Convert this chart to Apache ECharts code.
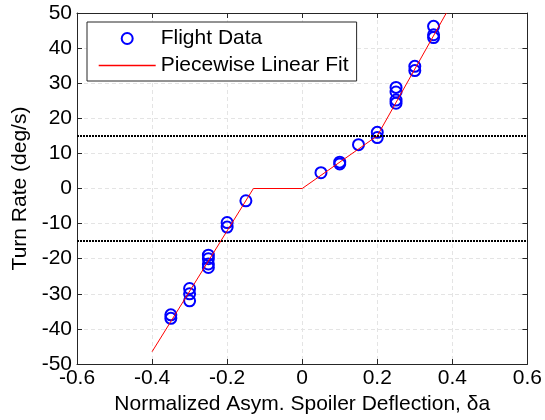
<!DOCTYPE html>
<html>
<head>
<meta charset="utf-8">
<script src="https://cdn.jsdelivr.net/npm/echarts@6/dist/echarts.min.js"></script>
<style>
  html, body { margin: 0; padding: 0; background: #fff; }
  #chart { width: 545px; height: 420px; }
</style>
</head>
<body>
<div id="chart"></div>
<script>
// Flight data points (normalized deflection, turn rate)
const flightX = [-0.35, -0.35, -0.3, -0.3, -0.3, -0.25, -0.25, -0.25, -0.25, -0.2, -0.2, -0.15,
  0.05, 0.1, 0.1, 0.15, 0.2, 0.2, 0.25, 0.25, 0.25, 0.25, 0.3, 0.3, 0.35, 0.35, 0.35];
const flightY = [-36, -37, -28.5, -30, -32, -19, -20, -21.5, -22.5, -9.7, -11, -3.5,
  4.5, 7.5, 7, 12.5, 16, 14.5, 28.8, 27.5, 25.2, 24.3, 34.8, 33.6, 46.2, 43.8, 43];

// Piecewise linear fit breakpoints
const fitX = [-0.4, -0.13, 0, 0.2, 0.384];
const fitY = [-46.5, 0, 0, 15, 50];

// Dotted threshold lines
const thresholds = [15, -15];

const xTicks = { min: -0.6, max: 0.6, interval: 0.2 };
const yTicks = { min: -50, max: 50, interval: 10 };

const font = "'Liberation Sans', Arial, sans-serif";
const fontSize = 21;
const axisColor = "#262626";
const gridLine = { show: true, lineStyle: { color: "#e4e4e4", type: [4, 3], width: 1 } };

const chart = echarts.init(document.getElementById("chart"));

const boxAxis = (extra) => ({
  type: "value",
  axisLine: { show: true, onZero: false, lineStyle: { color: axisColor, width: 1 } },
  axisTick: { show: true, inside: true, length: 5, lineStyle: { color: axisColor } },
  axisLabel: { show: false },
  splitLine: { show: false },
  ...extra,
});

const option = {
  animation: false,
  backgroundColor: "#fff",
  textStyle: { fontFamily: font },
  grid: { left: 77, right: 17, top: 13, bottom: 56 },
  legend: {
    orient: "vertical",
    left: 87,
    top: 22,
    padding: [6, 8, 5, 11],
    itemGap: 6,
    itemWidth: 57,
    itemHeight: 11,
    borderColor: axisColor,
    borderWidth: 1,
    backgroundColor: "#fff",
    selectedMode: false,
    textStyle: { fontSize: fontSize, color: "#000", fontFamily: font },
    data: [
      {
        name: "Flight Data",
        icon: "circle",
        itemStyle: { color: "rgba(0,0,0,0)", borderColor: "#0000ff", borderWidth: 2 },
      },
      {
        name: "Piecewise Linear Fit",
        // keep the line, hide the marker in the middle
        itemStyle: { color: "rgba(0,0,0,0)", borderColor: "rgba(0,0,0,0)", borderWidth: 0 },
        lineStyle: { color: "#ff0000", width: 1.4 },
      },
    ],
  },
  xAxis: [
    boxAxis({
      ...xTicks,
      position: "bottom",
      name: "Normalized Asym. Spoiler Deflection, \u03b4a",
      nameLocation: "middle",
      nameGap: 30,
      nameTextStyle: { fontSize: fontSize, color: "#000", fontFamily: font },
      axisLabel: {
        show: true,
        fontSize: fontSize,
        color: "#000",
        margin: 4,
        formatter: (v) => String(Math.round(v * 10) / 10),
      },
      splitLine: gridLine,
    }),
    boxAxis({ ...xTicks, position: "top" }),
  ],
  yAxis: [
    boxAxis({
      ...yTicks,
      position: "left",
      name: "Turn Rate (deg/s)",
      nameLocation: "middle",
      nameGap: 44,
      nameTextStyle: { fontSize: fontSize, color: "#000", fontFamily: font },
      axisLabel: { show: true, fontSize: fontSize, color: "#000", margin: 5 },
      splitLine: gridLine,
    }),
    boxAxis({ ...yTicks, position: "right" }),
  ],
  series: [
    {
      name: "Flight Data",
      type: "scatter",
      symbol: "circle",
      symbolSize: 11,
      itemStyle: { color: "rgba(0,0,0,0)", borderColor: "#0000ff", borderWidth: 2, opacity: 1 },
      data: flightX.map((x, i) => [x, flightY[i]]),
      z: 3,
    },
    {
      name: "Piecewise Linear Fit",
      type: "line",
      symbol: "none",
      lineStyle: { color: "#ff0000", width: 1 },
      itemStyle: { color: "#ff0000" },
      data: fitX.map((x, i) => [x, fitY[i]]),
      z: 4,
      markLine: {
        silent: true,
        symbol: "none",
        label: { show: false },
        lineStyle: { color: "#000", type: [2, 1], width: 2 },
        data: thresholds.map((v) => ({ yAxis: v })),
      },
    },
  ],
};

chart.setOption(option);
</script>
</body>
</html>
